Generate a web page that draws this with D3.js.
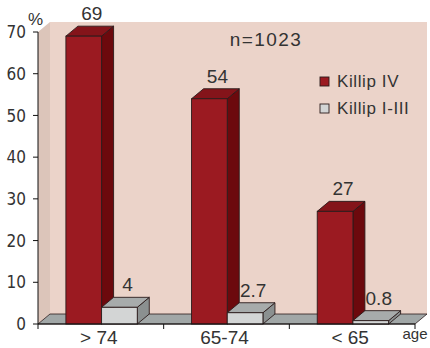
<!DOCTYPE html>
<html>
<head>
<meta charset="utf-8">
<script src="https://cdn.jsdelivr.net/npm/d3@7/dist/d3.min.js"></script>
<style>
  html, body { margin: 0; padding: 0; background: #ffffff; }
  svg { display: block; }
</style>
</head>
<body>
<svg id="chart" width="430" height="348"></svg>
<script>
// Age groups and the share (%) of patients per Killip class
const categories = ["> 74", "65-74", "< 65"];
const seriesNames = ["Killip IV", "Killip I-III"];
const killipIV = [69, 54, 27];
const killipI_III = [4, 2.7, 0.8];
const valueLabels = [["69", "4"], ["54", "2.7"], ["27", "0.8"]];
const yTicks = [0, 10, 20, 30, 40, 50, 60, 70];
const sampleNote = "n=1023";
const axisUnit = "%";
const axisName = "age";

const svg = d3.select("#chart");

// Plot frame and 3D depth offset
const plotLeft = 38, plotRight = 415, plotBottom = 324, plotTop = 32;
const dx = 12, dy = 10;

const x0 = d3.scaleBand().domain(categories).range([plotLeft, plotRight]);
const bw = x0.bandwidth();
const x1 = d3.scaleBand().domain(seriesNames).range([bw * 0.222, bw * 0.79]);
const y = d3.scaleLinear().domain([0, 70]).range([plotBottom, plotTop]);

const textColor = "#333333";
const edge = "#2b1b1b";

const palette = {
  "Killip IV":   { front: "#9b1a21", top: "#84141a", side: "#6c090d" },
  "Killip I-III": { front: "#d3d5d5", top: "#a7abab", side: "#8b9090" }
};

// Back wall
svg.append("rect")
  .attr("x", plotLeft + dx).attr("y", y(70) - dy)
  .attr("width", plotRight - plotLeft).attr("height", plotBottom - y(70))
  .attr("fill", "#ebd3c9");

// Side wall
svg.append("path")
  .attr("d", `M${plotLeft},${y(70)} L${plotLeft + dx},${y(70) - dy} L${plotLeft + dx},${plotBottom - dy} L${plotLeft},${plotBottom} Z`)
  .attr("fill", "#dcc5ba");

// Floor
svg.append("path")
  .attr("d", `M${plotLeft},${plotBottom} L${plotLeft + dx},${plotBottom - dy} L${plotRight + dx},${plotBottom - dy} L${plotRight},${plotBottom} Z`)
  .attr("fill", "#a1a7a7").attr("stroke", edge).attr("stroke-width", 0.8).attr("stroke-linejoin", "round");

// Bars as 3D boxes
const rows = categories.map((c, i) => ({
  cat: c,
  items: [
    { name: seriesNames[0], value: killipIV[i], label: valueLabels[i][0] },
    { name: seriesNames[1], value: killipI_III[i], label: valueLabels[i][1] }
  ]
}));

const groups = svg.append("g").selectAll("g").data(rows).join("g")
  .attr("transform", d => `translate(${x0(d.cat)},0)`);

groups.each(function(row) {
  const g = d3.select(this);
  row.items.forEach(it => {
    const bx = x1(it.name), w = x1.bandwidth();
    const yt = y(it.value), yb = y(0);
    const col = palette[it.name];
    const box = g.append("g");
    box.append("path")
      .attr("d", `M${bx + w},${yb} L${bx + w + dx},${yb - dy} L${bx + w + dx},${yt - dy} L${bx + w},${yt} Z`)
      .attr("fill", col.side).attr("stroke", edge).attr("stroke-width", 0.9).attr("stroke-linejoin", "round");
    box.append("path")
      .attr("d", `M${bx},${yt} L${bx + dx},${yt - dy} L${bx + w + dx},${yt - dy} L${bx + w},${yt} Z`)
      .attr("fill", col.top).attr("stroke", edge).attr("stroke-width", 0.9).attr("stroke-linejoin", "round");
    box.append("rect")
      .attr("x", bx).attr("y", yt).attr("width", w).attr("height", yb - yt)
      .attr("fill", col.front).attr("stroke", edge).attr("stroke-width", 0.9);
    g.append("text")
      .attr("x", bx + w / 2 + dx / 2 + 2).attr("y", yt - 16)
      .attr("text-anchor", "middle")
      .attr("font-family", "'Liberation Sans', Arial, sans-serif")
      .attr("font-size", 19).attr("fill", textColor)
      .text(it.label);
  });
});

// Y axis
const yAxis = svg.append("g");
yAxis.append("line").attr("x1", plotLeft).attr("x2", plotLeft).attr("y1", y(70)).attr("y2", plotBottom)
  .attr("stroke", "#111").attr("stroke-width", 1);
yAxis.selectAll("line.tick").data(yTicks).join("line")
  .attr("class", "tick")
  .attr("x1", plotLeft - 5).attr("x2", plotLeft).attr("y1", d => y(d)).attr("y2", d => y(d))
  .attr("stroke", "#111").attr("stroke-width", 1);
yAxis.selectAll("text").data(yTicks).join("text")
  .attr("x", plotLeft - 12).attr("y", d => y(d)).attr("dy", "0.36em")
  .attr("text-anchor", "end")
  .attr("font-family", "'Liberation Sans Narrow', 'DejaVu Sans Condensed', sans-serif")
  .attr("font-size", 17).attr("fill", textColor)
  .text(d => d);

svg.append("text").attr("x", 35.5).attr("y", 25).attr("text-anchor", "middle")
  .attr("font-family", "'Liberation Sans', Arial, sans-serif").attr("font-size", 17)
  .attr("fill", textColor).text(axisUnit);

// X axis
const xAxis = svg.append("g");
xAxis.append("line").attr("x1", plotLeft).attr("x2", plotRight).attr("y1", plotBottom).attr("y2", plotBottom)
  .attr("stroke", "#111").attr("stroke-width", 1);
const tickXs = categories.map(c => x0(c)).concat([plotRight]);
xAxis.selectAll("line.tick").data(tickXs).join("line")
  .attr("class", "tick")
  .attr("x1", d => d).attr("x2", d => d).attr("y1", plotBottom).attr("y2", plotBottom + 5)
  .attr("stroke", "#111").attr("stroke-width", 1);
xAxis.selectAll("text").data(categories).join("text")
  .attr("x", d => x0(d) + bw / 2 - 2).attr("y", 344)
  .attr("text-anchor", "middle")
  .attr("font-family", "'Liberation Sans', Arial, sans-serif")
  .attr("font-size", 19).attr("fill", textColor)
  .text(d => d);
svg.append("text").attr("x", plotRight).attr("y", 339).attr("text-anchor", "middle")
  .attr("font-family", "'Liberation Sans', Arial, sans-serif").attr("font-size", 15)
  .attr("fill", textColor).text(axisName);

// Sample size note
svg.append("text").attr("x", 266).attr("y", 46).attr("text-anchor", "middle")
  .attr("font-family", "'Liberation Sans', Arial, sans-serif").attr("font-size", 19)
  .attr("letter-spacing", 1.4).attr("fill", textColor).text(sampleNote);

// Legend
const legend = svg.append("g").attr("transform", "translate(320,77)");
const legendRows = legend.selectAll("g").data(seriesNames).join("g")
  .attr("transform", (d, i) => `translate(0,${i * 27})`);
legendRows.append("rect").attr("x", 0).attr("y", 0).attr("width", 9).attr("height", 9)
  .attr("fill", d => palette[d].front).attr("stroke", edge).attr("stroke-width", 0.9);
legendRows.append("text").attr("x", 17).attr("y", 10)
  .attr("font-family", "'Liberation Sans', Arial, sans-serif").attr("font-size", 17)
  .attr("letter-spacing", 0.6).attr("fill", textColor).text(d => d);
</script>
</body>
</html>
